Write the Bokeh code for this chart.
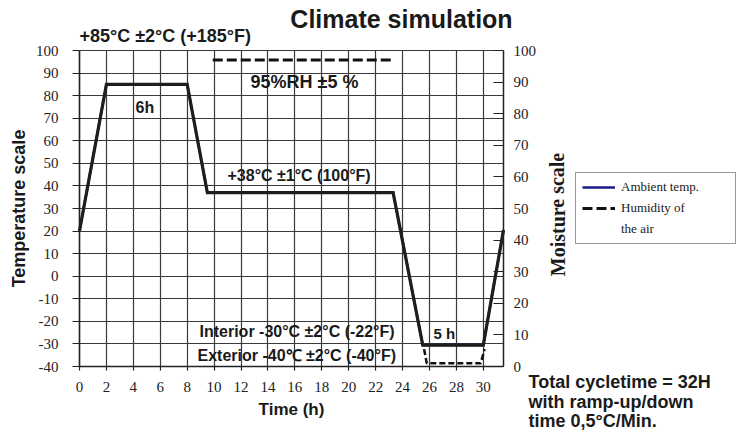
from bokeh.plotting import figure
from bokeh.models import Range1d, LinearAxis, FixedTicker, Label, Legend, LegendItem
from bokeh.embed import file_html
from bokeh.resources import INLINE

# ---- data ----
hour_ticks = list(range(0, 31, 2))
temp_ticks = list(range(-40, 101, 10))
moist_ticks = list(range(0, 101, 10))

temp_time = [0, 2, 8, 9.5, 23.3, 25.5, 30, 31.5]
temp_values = [20, 85, 85, 37, 37, -30.5, -30.5, 20.5]

hum_high_time = [9.9, 23.2]
hum_high_values = [97, 97]
hum_low_time = [25.6, 25.8, 29.8, 30.1]
hum_low_values = [5.5, 1, 1, 5.5]

# ---- layout (pixels) ----
W, H = 736, 434
L, R, T, B = 79, 503, 50, 366
X0, X1 = 0, 31.5
Y0, Y1 = -40, 100
M0, M1 = 0, 100

sx = (R - L) / (X1 - X0)
sy = (B - T) / (Y1 - Y0)
sm = (B - T) / (M1 - M0)
x_start, x_end = X0 - L / sx, X1 + (W - R) / sx
y_start, y_end = Y0 - (H - B) / sy, Y1 + T / sy
m_start, m_end = M0 - (H - B) / sm, M1 + T / sm


def dx(px):
    return x_start + px / sx


def dy(py):
    return y_end - py / sy


SANS = "Liberation Sans"
SERIF = "Liberation Serif"
INK = "#1a1a1a"
GRID = "#3a3a3a"

p = figure(width=W, height=H, x_range=Range1d(x_start, x_end), y_range=Range1d(y_start, y_end),
           output_backend="svg", toolbar_location=None,
           min_border=0, min_border_left=0, min_border_right=0,
           min_border_top=0, min_border_bottom=0)
p.title.visible = False
p.background_fill_color = "white"
p.border_fill_color = "white"
p.outline_line_color = None

p.extra_y_ranges = {"moist": Range1d(m_start, m_end)}

# axes at fixed positions
xa = p.xaxis[0]
ya = p.yaxis[0]
xa.ticker = FixedTicker(ticks=hour_ticks)
ya.ticker = FixedTicker(ticks=temp_ticks)
xa.fixed_location = Y0
xa.bounds = (X0, X1)
ya.fixed_location = X0
ya.bounds = (Y0, Y1)
xa.axis_label = "Time (h)"
ya.axis_label = "Temperature scale"
ya.major_label_overrides = {t: str(t) for t in temp_ticks if t < 0}

right = LinearAxis(y_range_name="moist", ticker=FixedTicker(ticks=moist_ticks))
right.fixed_location = X1
right.bounds = (M0, M1)
p.add_layout(right, "right")

for ax in [xa, ya, right]:
    ax.major_label_text_font = SERIF
    ax.major_label_text_font_size = "15px"
    ax.major_label_text_color = "#222222"
    ax.axis_line_color = "#222222"
    ax.axis_line_width = 1.5
    ax.major_tick_line_color = "#222222"
    ax.major_tick_line_width = 1.2
    ax.minor_tick_line_color = None
    ax.axis_label_text_color = INK
    ax.axis_label_text_font_style = "bold"
    ax.axis_label_text_font = SANS

xa.major_tick_out = 4
xa.major_tick_in = 0
xa.major_label_standoff = 11
xa.axis_label_text_font_size = "17px"
xa.axis_label_standoff = 5

ya.major_tick_out = 7
ya.major_tick_in = 0
ya.major_label_standoff = 14
ya.axis_label_text_font_size = "18px"
ya.axis_label_standoff = 4

right.major_tick_out = 0
right.major_tick_in = 10
right.major_label_standoff = 10

# grid restricted to the plot box
p.xgrid.ticker = FixedTicker(ticks=hour_ticks)
p.ygrid.ticker = FixedTicker(ticks=temp_ticks)
p.xgrid.bounds = (X0, X1)
p.ygrid.bounds = (Y0, Y1)
p.xgrid.cross_bounds = (Y0, Y1)
p.ygrid.cross_bounds = (X0, X1)
for g in [p.xgrid[0], p.ygrid[0]]:
    g.grid_line_color = GRID
    g.grid_line_width = 1.2
    g.grid_line_alpha = 1.0

# series
legend_blue = p.line(temp_time, temp_values, line_color="#1a1a8a", line_width=2.4)
p.line(temp_time, temp_values, line_color="#1e1e1e", line_width=3.2, line_join="miter")
hum_hi = p.line(hum_high_time, hum_high_values, y_range_name="moist",
                line_color="#111111", line_width=3.2, line_dash="10 4")
p.line(hum_low_time, hum_low_values, y_range_name="moist",
       line_color="#111111", line_width=2.5, line_dash="6 3")

legend = Legend(items=[LegendItem(label="Ambient temp.", renderers=[legend_blue]),
                       LegendItem(label="Humidity of", renderers=[hum_hi]),
                       LegendItem(label="the air", renderers=[])],
                location=(575, H - 244), orientation="vertical")
legend.label_text_font = SERIF
legend.label_text_font_size = "13px"
legend.label_text_color = INK
legend.glyph_width = 33
legend.glyph_height = 14
legend.label_height = 14
legend.label_standoff = 6
legend.label_width = 108
legend.padding = 6
legend.spacing = 5
legend.margin = 0
legend.border_line_color = "#333333"
legend.border_line_width = 1
legend.background_fill_color = "white"
legend.background_fill_alpha = 1
p.add_layout(legend)


def note(px, py, text, size="16px", align="left", font=SANS, angle=0):
    p.add_layout(Label(x=dx(px), y=dy(py), text=text, text_font=font, text_font_style="bold",
                       text_font_size=size, text_color=INK, text_align=align,
                       text_baseline="middle", angle=angle))


note(401, 18, "Climate simulation", size="25px", align="center")
note(79, 35, "+85°C ±2°C (+185°F)", size="18px")
note(250, 81, "95%RH ±5 %", size="18px")
note(135, 107, "6h", size="16px")
note(227, 175, "+38°C ±1°C (100°F)", size="16px")
note(199, 331, "Interior -30°C ±2°C (-22°F)", size="16px")
note(197, 355, "Exterior -40℃ ±2°C (-40°F)", size="16px")
note(433, 333, "5 h", size="15px")
note(528, 381, "Total cycletime = 32H", size="18px")
note(528, 401, "with ramp-up/down", size="18px")
note(528, 420, "time 0,5°C/Min.", size="18px")
note(557, 214, "Moisture scale", size="20px", align="center", font=SERIF, angle=1.5708)

open("out.html", "w").write(file_html(p, INLINE))
